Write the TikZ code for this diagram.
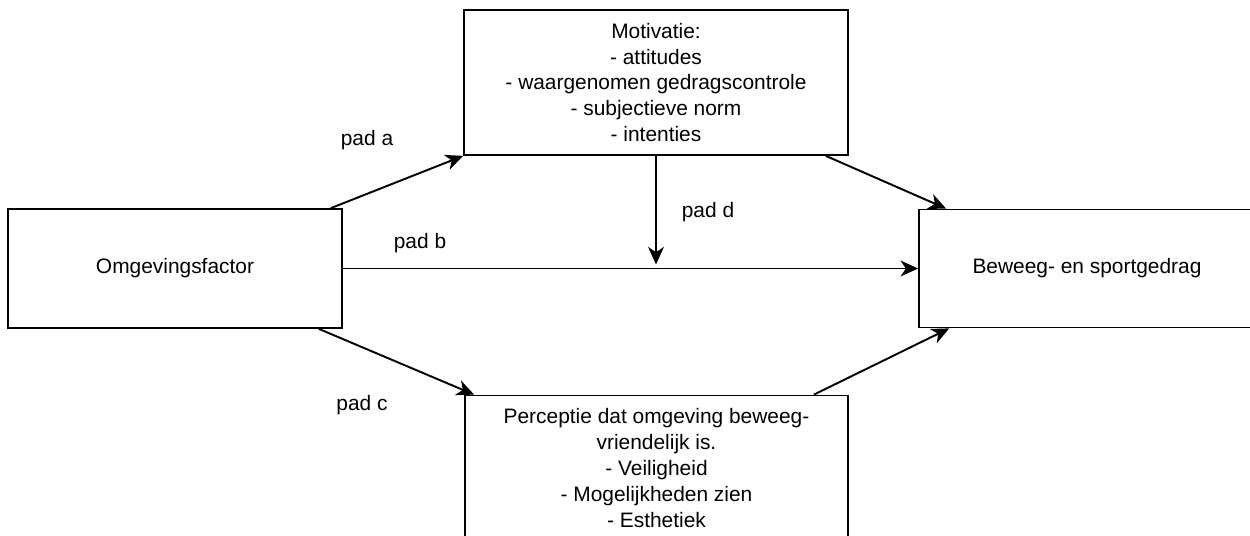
\documentclass[tikz,border=0pt]{standalone}
\usepackage{fontspec}
\setmainfont{Liberation Sans}
\usepackage{tikz}
\usetikzlibrary{arrows.meta, calc, positioning}
\tikzset{>={Stealth[length=10pt, width=9pt, inset=3pt]}}
\tikzset{
  factor/.style={draw, line width=1pt, inner sep=0pt, align=center,
    font=\fontsize{11.9}{14.7}\selectfont},
  padlabel/.style={font=\fontsize{11.9}{14.7}\selectfont},
  pad/.style={->, line width=1.1pt}
}

\begin{document}
\begin{tikzpicture}[x=0.02cm, y=-0.02cm]

% Canvas
\clip (0,0) rectangle (1250,535);
\fill[white] (0,0) rectangle (1250,535);

% Boxes
\node[factor, minimum width=6.68cm, minimum height=2.38cm] (omg) at (175,268.5) {Omgevingsfactor};
\node[factor, minimum width=7.68cm, minimum height=2.9cm] (mot) at (656,82.5)
  {Motivatie:\\- attitudes\\- waargenomen gedragscontrole\\- subjectieve norm\\- intenties};
\node[factor, minimum width=7.66cm, minimum height=2.9cm] (perc) at (656.5,468)
  {Perceptie dat omgeving beweeg-\\vriendelijk is.\\- Veiligheid\\- Mogelijkheden zien\\- Esthetiek};
\node[factor, minimum width=6.72cm, minimum height=2.36cm] (bew) at (1087,268.5) {Beweeg- en sportgedrag};

% Paths
\draw[pad] ($(omg.north east)+(-12,0)$) -- (mot.south west);
\draw[pad] (omg.east) -- (bew.west);
\draw[pad] ($(omg.south east)+(-24,0)$) -- ($(perc.north west)+(10,0)$);
\draw[pad] ($(mot.south east)+(-23,0)$) -- ($(bew.north west)+(28,0)$);
\draw[pad] ($(perc.north east)+(-35,0)$) -- ($(bew.south west)+(31,0)$);
\draw[pad] (mot.south) -- ($(mot.south |- omg.east)+(0,-4)$);

% Labels
\node[padlabel] (lbla) at (367,140) {pad a};
\node[padlabel] (lblb) at (420,243) {pad b};
\node[padlabel] (lblc) at (362,405) {pad c};
\node[padlabel] (lbld) at (708,212) {pad d};

\end{tikzpicture}
\end{document}
